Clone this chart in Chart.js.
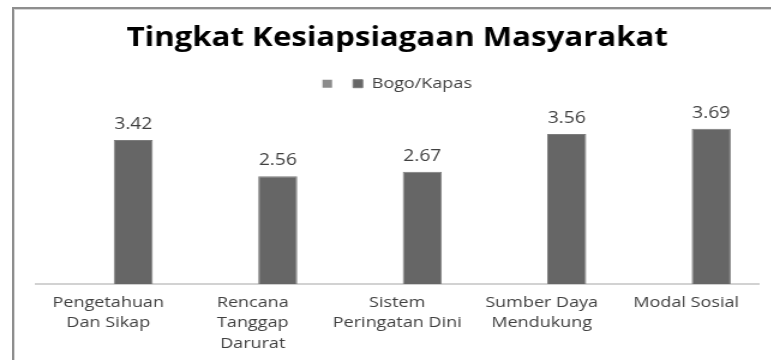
<!DOCTYPE html>
<html lang="id">
<head>
    <meta charset="UTF-8">
    <meta name="viewport" content="width=device-width, initial-scale=1.0">
    <title>Tingkat Kesiapsiagaan Masyarakat</title>
    <script src="https://cdn.jsdelivr.net/npm/chart.js"></script>
    <style>
        html, body { margin: 0; padding: 0; background: #fff; overflow: hidden; }
        .wrap { position: relative; width: 771px; height: 360px; overflow: hidden; }
        .frame {
            position: absolute; left: 12px; top: 7px; width: 900px; height: 500px;
            border-left: 2px solid #8e8e8e; border-top: 2px solid #8e8e8e;
            box-shadow: inset 1px 1px 0 #d6d6d6;
        }
        /* the chart is drawn narrow and widened a bit, like the exported picture */
        #grafik { position: absolute; left: 0; top: 0; transform: scaleX(1.2); transform-origin: 0 0; }
    </style>
</head>
<body>
    <div class="wrap">
        <div class="frame"></div>
        <canvas id="grafik" width="643" height="360"></canvas>
    </div>

<script>
// kategori (sumbu x)
const kategori = [
    ['Pengetahuan', 'Dan Sikap'],
    ['Rencana', 'Tanggap', 'Darurat'],
    ['Sistem', 'Peringatan Dini'],
    ['Sumber Daya', 'Mendukung'],
    ['Modal Sosial']
];

// nama seri di legenda (seri pertama kosong)
const namaSeri = ['', 'Bogo/Kapas'];

// nilai
const seriKosong = [null, null, null, null, null];
const bogoKapas = [3.42, 2.56, 2.67, 3.56, 3.69];

// tulis angka di atas batang seri Bogo/Kapas
const labelNilai = {
    id: 'labelNilai',
    afterDatasetsDraw(chart) {
        const ctx = chart.ctx;
        const meta = chart.getDatasetMeta(1);
        ctx.save();
        ctx.font = '16px "Open Sans"';
        ctx.fillStyle = '#404040';
        ctx.textAlign = 'center';
        ctx.textBaseline = 'alphabetic';
        meta.data.forEach(function (bar, i) {
            ctx.fillText(bogoKapas[i].toFixed(2), bar.x, bar.y - 11);
        });
        ctx.restore();
    }
};

const dados = {
    labels: kategori,
    datasets: [{
        label: namaSeri[0],
        data: seriKosong,
        backgroundColor: '#8c8c8c'
    }, {
        label: namaSeri[1],
        data: bogoKapas,
        backgroundColor: '#666666',
        borderColor: '#7c7c7c',
        borderWidth: 1
    }]
};

const config = {
    type: 'bar',
    data: dados,
    plugins: [labelNilai],
    options: {
        responsive: false,
        animation: false,
        categoryPercentage: 0.693,
        barPercentage: 0.78,
        layout: { padding: { left: 30, right: 11, top: 0, bottom: 6 } },
        plugins: {
            title: {
                display: true,
                text: 'Tingkat Kesiapsiagaan Masyarakat',
                color: '#000',
                font: { family: 'Open Sans', size: 26, weight: 'bold' },
                padding: { top: 23, bottom: 12 }
            },
            legend: {
                display: true,
                labels: {
                    color: '#404040',
                    font: { family: 'Open Sans', size: 15 },
                    boxWidth: 8,
                    boxHeight: 8,
                    padding: 10
                }
            },
            tooltip: { enabled: false }
        },
        scales: {
            x: {
                grid: { display: false },
                border: { display: true, color: '#d2d2d2', width: 2 },
                ticks: {
                    color: '#404040',
                    font: { family: 'Open Sans', size: 15, lineHeight: 1.37 },
                    padding: 0,
                    maxRotation: 0,
                    autoSkip: false
                }
            },
            y: {
                display: false,
                min: 0,
                max: 4.34
            }
        }
    }
};

let myChart = new Chart(document.getElementById('grafik'), config);
</script>
</body>
</html>
